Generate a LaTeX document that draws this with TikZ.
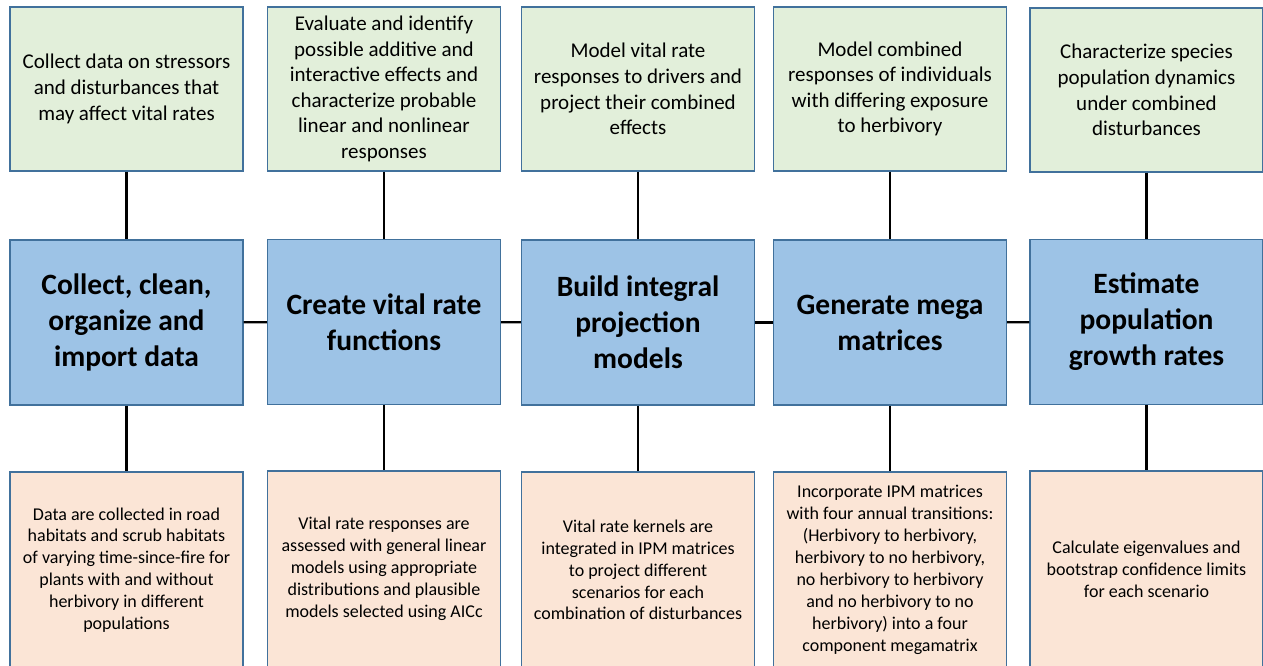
\documentclass[tikz,border=0pt]{standalone}
\usepackage{fontspec}
\setmainfont{Carlito}
\usepackage{tikz}
\definecolor{aimgreen}{HTML}{E2EFDA}
\definecolor{stageblue}{HTML}{9DC3E6}
\definecolor{notepeach}{HTML}{FBE5D6}
\definecolor{edgeblue}{HTML}{41719C}
\tikzset{
    aim/.style = {
        draw=edgeblue,
        fill=aimgreen,
        shape=rectangle,
        minimum height=164pt,
        minimum width=233pt,
        inner sep=0pt,
        align=center,
        line width=1.2pt,
        font=\fontsize{21}{25.6}\selectfont
    },
    stage/.style = {
        draw=edgeblue,
        fill=stageblue,
        shape=rectangle,
        minimum height=165pt,
        minimum width=233pt,
        inner sep=0pt,
        align=center,
        line width=1.2pt,
        font=\fontsize{29.5}{36}\selectfont\bfseries
    },
    note/.style = {
        draw=edgeblue,
        fill=notepeach,
        shape=rectangle,
        minimum height=196pt,
        minimum width=233pt,
        inner sep=0pt,
        align=center,
        line width=1.2pt,
        font=\fontsize{18}{21.9}\selectfont
    },
    conn/.style = {
        draw=black,
        line width=2.2pt
    },
}

\begin{document}
\begin{tikzpicture}[x=1pt, y=1pt]
                \clip (0,0) rectangle (1263,665);

                % top row
                \node[aim] (stress) at (126.5,576) {Collect data on stressors\\and disturbances that\\may affect vital rates};
                \node[aim] (effects) at (384,576) {Evaluate and identify\\possible additive and\\interactive effects and\\characterize probable\\linear and nonlinear\\responses};
                \node[aim] (drivers) at (638,576) {Model vital rate\\responses to drivers and\\project their combined\\effects};
                \node[aim] (expose) at (890,576) {Model combined\\responses of individuals\\with differing exposure\\to herbivory};
                \node[aim] (dynam) at (1146.5,575) {Characterize species\\population dynamics\\under combined\\disturbances};

                % middle row
                \node[stage] (clean) at (126.5,342.5) {Collect, clean,\\organize and\\import data};
                \node[stage] (vital) at (384,343) {Create vital rate\\functions};
                \node[stage] (ipm) at (638,342.5) {Build integral\\projection\\models};
                \node[stage] (mega) at (890,342.5) {Generate mega\\matrices};
                \node[stage] (growth) at (1146.5,343) {Estimate\\population\\growth rates};

                % bottom row
                \node[note] (field) at (126.5,95) {Data are collected in road\\habitats and scrub habitats\\of varying time-since-fire for\\plants with and without\\herbivory in different\\populations};
                \node[note] (glm) at (384,96) {Vital rate responses are\\assessed with general linear\\models using appropriate\\distributions and plausible\\models selected using AICc};
                \node[note] (kernel) at (638,95) {Vital rate kernels are\\integrated in IPM matrices\\to project different\\scenarios for each\\combination of disturbances};
                \node[note] (trans) at (890,95) {Incorporate IPM matrices\\with four annual transitions:\\(Herbivory to herbivory,\\herbivory to no herbivory,\\no herbivory to herbivory\\and no herbivory to no\\herbivory) into a four\\component megamatrix};
                \node[note] (eigen) at (1146.5,96) {Calculate eigenvalues and\\bootstrap confidence limits\\for each scenario};

                \path[conn] (clean) -- (vital);
                \path[conn] (vital) -- (ipm);
                \path[conn] (ipm) -- (mega);
                \path[conn] (mega) -- (growth);

                \path[conn] (stress) -- (clean);
                \path[conn] (effects) -- (vital);
                \path[conn] (drivers) -- (ipm);
                \path[conn] (expose) -- (mega);
                \path[conn] (dynam) -- (growth);

                \path[conn] (clean) -- (field);
                \path[conn] (vital) -- (glm);
                \path[conn] (ipm) -- (kernel);
                \path[conn] (mega) -- (trans);
                \path[conn] (growth) -- (eigen);
            \end{tikzpicture}
\end{document}
